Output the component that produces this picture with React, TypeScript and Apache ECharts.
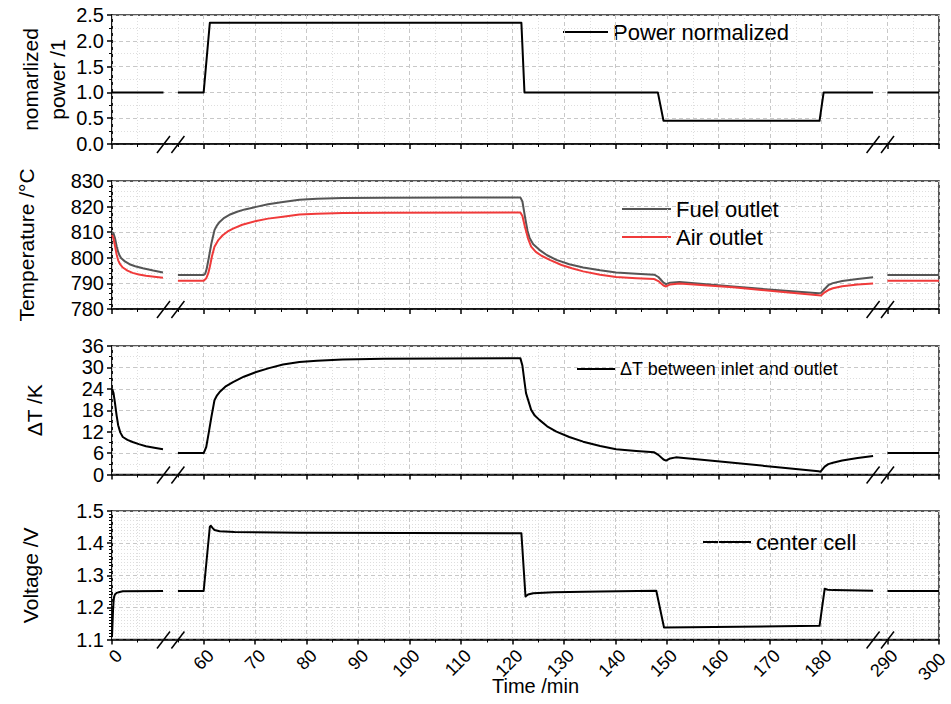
import React, { useEffect, useRef } from "react";
import * as echarts from "echarts";

// ---- broken time axis: three segments mapped onto one continuous axis ----
const SEG1_END = 10;
const SEG2_START = 55;
const SEG2_END = 190;
const SEG3_START = 290;
const SEG2_SHIFT = 42.2;
const SEG3_SHIFT = 139.4;
const X_END = 300;

const majorTicks = [0, 60, 70, 80, 90, 100, 110, 120, 130, 140, 150, 160, 170, 180, 290, 300];
const minorTicks = [5, 55, 65, 75, 85, 95, 105, 115, 125, 135, 145, 155, 165, 175, 185, 295];

// ---- panel 1: normalized power ----
const powerTime = [0, 10, 55, 60, 61.2, 121.7, 122.3, 148.2, 149.3, 179.6, 180.4, 190, 290, 300];
const powerValue = [1, 1, 1, 1, 2.35, 2.35, 1, 1, 0.45, 0.45, 1, 1, 1, 1];

// ---- panel 2: outlet temperatures ----
const fuelTime = [0, 0.3, 0.6, 0.9, 1.2, 1.5, 1.8, 2.5, 3.4, 4.5, 6, 8, 9.9,
  55, 60, 60.3, 60.6, 61, 61.5, 62.1, 62.6, 63.1, 64, 65, 66.5, 68, 70.2, 72.5, 75.4, 78.6, 82, 87, 95, 110, 121.5,
  121.9, 122.4, 122.9, 123.3, 124, 125.2, 126.7, 128.5, 131, 133.7, 137, 140.1, 144, 147.5, 148.3, 149.3, 149.8, 150.6, 152.4,
  162.8, 171, 179.4, 179.9, 180.6, 181.3, 182.2, 184, 187, 190,
  290, 300];
const fuelValue = [810.1, 809.5, 807.5, 804.5, 802.3, 800.8, 799.8, 798.6, 797.5, 796.7, 795.9, 795.0, 794.3,
  793.3, 793.3, 793.8, 795.8, 800, 805.6, 810.8, 812.7, 814, 815.6, 816.8, 818, 818.9, 819.9, 820.9, 821.8, 822.7, 823.1, 823.4, 823.5, 823.6, 823.6,
  822, 816, 810.5, 807.7, 805.3, 803.1, 801, 799.2, 797.5, 796.2, 795.1, 794.3, 793.8, 793.4, 792.5, 790.3, 789.7, 790.3, 790.5,
  788.8, 787.4, 786.2, 786.3, 787.8, 789.3, 790.1, 790.9, 791.7, 792.4,
  793.3, 793.3];
const airTime = [0, 0.3, 0.6, 0.9, 1.2, 1.6, 2.1, 3, 4, 5.2, 6.6, 8.2, 9.9,
  55, 60, 60.5, 60.9, 61.2, 61.6, 62.1, 62.8, 63.7, 64.6, 65.7, 67.5, 70.2, 72.5, 75.4, 78.6, 82, 87, 95, 121.5,
  121.9, 122.4, 123, 123.6, 124.5, 125.6, 127.2, 129.5, 131.5, 133.7, 137, 140.1, 144, 147.5, 148.3, 149.3, 149.8, 150.6, 152.4,
  162.8, 171, 179.4, 179.9, 180.6, 181.3, 182.2, 184, 187, 190,
  290, 300];
const airValue = [809, 807.5, 804.5, 801.3, 799, 797.4, 796.2, 795, 794.1, 793.5, 793, 792.6, 792.2,
  791, 791, 792, 794, 796.5, 800.5, 804.3, 806.8, 808.8, 810.2, 811.4, 812.9, 814.4, 815.3, 816, 816.9, 817.2, 817.5, 817.6, 817.7,
  816.3, 812, 807.5, 804.4, 802.3, 800.8, 799.2, 797.2, 795.9, 794.7, 793.4, 792.5, 792, 791.7, 790.9, 789.2, 788.8, 789.6, 790,
  788.5, 786.9, 785.4, 785.3, 786.5, 787.4, 788.1, 788.9, 789.6, 790,
  791, 791];

// ---- panel 3: delta T ----
const dtTime = [0, 0.3, 0.6, 0.9, 1.2, 1.6, 2.1, 3, 4, 5.2, 6.6, 8.2, 9.9,
  55, 60, 60.5, 61, 61.5, 62.1, 62.6, 63.1, 64.2, 65.7, 67.8, 70.2, 72.7, 75.4, 78.6, 82, 87, 95, 121.5,
  121.9, 122.3, 122.6, 123.6, 124.3, 125.2, 126.7, 128.5, 131, 133.7, 137, 140.1, 144, 147.5, 148.3, 149.3, 149.8, 150.6, 151.7,
  162.8, 171, 179.4, 179.8, 180.6, 181.3, 182.2, 184, 187, 190,
  290, 300];
const dtValue = [24.1, 22.8, 19.8, 16.5, 13.8, 11.8, 10.5, 9.7, 9.1, 8.5, 7.9, 7.5, 7.1,
  6, 6, 7.7, 11.8, 16.1, 20.8, 22.2, 23.1, 24.6, 25.9, 27.4, 28.7, 29.8, 30.8, 31.5, 31.9, 32.2, 32.4, 32.6,
  30.5, 26, 22.8, 18.1, 16.5, 15.3, 13.5, 12, 10.5, 9.2, 8, 7.1, 6.6, 6.2, 5.5, 4.2, 3.9, 4.5, 4.8,
  3.3, 2.1, 0.9, 0.8, 2.2, 2.9, 3.3, 3.9, 4.6, 5.2,
  6, 6];

// ---- panel 4: center cell voltage ----
const voltTime = [0, 0.1, 0.2, 0.3, 0.4, 0.6, 0.9, 1.5, 2.1, 9.9,
  55, 60, 61.2, 61.4, 61.8, 62.1, 63.1, 66, 78.6, 121.7, 122.5, 123, 124, 128, 137, 147.9, 149.4, 179.6, 180.6, 181.2, 182.2, 190,
  290, 300];
const voltValue = [1.108, 1.15, 1.191, 1.218, 1.233, 1.241, 1.245, 1.248, 1.25, 1.251,
  1.251, 1.251, 1.451, 1.454, 1.446, 1.441, 1.437, 1.435, 1.432, 1.431, 1.234, 1.24, 1.244, 1.247, 1.2496, 1.2515, 1.1374, 1.1425, 1.2578, 1.255, 1.2537, 1.2515,
  1.251, 1.251];

const FONT = '"Liberation Sans", Arial, Helvetica, sans-serif';

function segOf(t: number) {
  return t <= (SEG1_END + SEG2_START) / 2 ? 0 : t <= (SEG2_END + SEG3_START) / 2 ? 1 : 2;
}
function tx(t: number) {
  const s = segOf(t);
  return s === 0 ? t : s === 1 ? t - SEG2_SHIFT : t - SEG3_SHIFT;
}
function inv(v: number) {
  if (v <= (tx(SEG1_END) + tx(SEG2_START)) / 2) return v;
  if (v <= (tx(SEG2_END) + tx(SEG3_START)) / 2) return v + SEG2_SHIFT;
  return v + SEG3_SHIFT;
}
function build(times: number[], vals: number[]) {
  const out: any[] = [];
  for (let i = 0; i < times.length; i++) {
    if (i > 0 && segOf(times[i]) !== segOf(times[i - 1])) {
      out.push([(tx(times[i - 1]) + tx(times[i])) / 2, "-"]);
    }
    out.push([tx(times[i]), vals[i]]);
  }
  return out;
}

const panels = [
  { top: 15, height: 129, min: 0, max: 2.5, interval: 0.5, minor: 2, dec: 1, name: "nomarlized\npower /1", gap: 41 },
  { top: 181, height: 128, min: 780, max: 830, interval: 10, minor: 5, dec: 0, name: "Temperature /°C", gap: 72 },
  { top: 346, height: 128.5, min: 0, max: 36, interval: 6, minor: 2, dec: 0, name: "ΔT /K", gap: 64 },
  { top: 511, height: 128.5, min: 1.1, max: 1.5, interval: 0.1, minor: 10, dec: 1, name: "Voltage /V", gap: 68 },
];

export default function App() {
  const ref = useRef<HTMLDivElement>(null);
  useEffect(() => {
    if (!ref.current) return;
    const chart = echarts.init(ref.current, undefined, { renderer: "svg" });
    const grids: any[] = [];
    const xAxes: any[] = [];
    const yAxes: any[] = [];
    const lastTick = majorTicks[majorTicks.length - 1];
    panels.forEach((p, i) => {
      grids.push({
        left: 112, right: 12, top: p.top, height: p.height, show: true, borderColor: "#222", borderWidth: 1.5,
        backgroundColor: "transparent", containLabel: false, outerBoundsMode: "none",
      });
      const last = i === panels.length - 1;
      xAxes.push({
        gridIndex: i, type: "value", position: "bottom", min: 0, max: tx(X_END),
        axisLine: { show: true, onZero: false, lineStyle: { color: "#000", width: 1.5 } },
        axisTick: { show: true, inside: false, length: 5, customValues: majorTicks.map(tx), lineStyle: { color: "#000", width: 1.5 } },
        axisLabel: {
          show: last, customValues: majorTicks.map(tx), rotate: 45, fontSize: 18, color: "#000", fontFamily: FONT,
          margin: 6, verticalAlign: "top", padding: [1, 0, 0, 0],
          formatter: (v: number) => {
            const t = Math.round(inv(v));
            return t === lastTick ? `{e|${t}}` : `{n|${t}}`;
          },
          rich: {
            n: { fontSize: 18, color: "#000", fontFamily: FONT },
            e: { fontSize: 18, color: "#000", fontFamily: FONT, padding: [0, 5, 0, 0] },
          },
        },
        splitLine: { show: true, lineStyle: { color: "#c8c8c8", type: [4, 3], width: 1 } },
        name: last ? "Time /min" : "", nameLocation: "middle", nameGap: 36, nameMoveOverlap: false,
        nameTextStyle: { fontSize: 20, color: "#000", fontFamily: FONT, padding: [0, 0, 0, 20] },
        z: 5,
      });
      xAxes.push({
        gridIndex: i, type: "value", position: "bottom", min: 0, max: tx(X_END),
        axisLine: { show: false },
        axisTick: { show: true, inside: false, length: 3, customValues: minorTicks.map(tx), lineStyle: { color: "#000", width: 1 } },
        axisLabel: { show: false },
        splitLine: { show: true, lineStyle: { color: "#dedede", type: [1, 2], width: 1 } },
      });
      yAxes.push({
        gridIndex: i, type: "value", min: p.min, max: p.max, interval: p.interval,
        axisLine: { show: true, onZero: false, lineStyle: { color: "#000", width: 1.5 } },
        axisTick: { show: true, inside: false, length: 5, lineStyle: { color: "#000", width: 1.5 } },
        minorTick: { show: true, splitNumber: p.minor, length: 3, lineStyle: { color: "#000", width: 1 } },
        axisLabel: { fontSize: 20, color: "#000", fontFamily: FONT, margin: 8, formatter: (v: number) => v.toFixed(p.dec) },
        splitLine: { show: true, lineStyle: { color: "#c8c8c8", type: [4, 3], width: 1 } },
        minorSplitLine: { show: true, lineStyle: { color: "#dedede", type: [1, 2], width: 1 } },
        name: p.name, nameLocation: "middle", nameRotate: 90, nameGap: p.gap, nameMoveOverlap: false,
        nameTextStyle: { fontSize: 21, color: "#000", fontFamily: FONT, lineHeight: 27 },
      });
    });
    const line = (name: string, xi: number, yi: number, data: any[], color: string) => ({
      name, type: "line", xAxisIndex: xi, yAxisIndex: yi, data, symbol: "none", showSymbol: false,
      lineStyle: { color, width: 2, join: "round" }, itemStyle: { color }, z: 10,
    });
    const series = [
      line("Power normalized", 0, 0, build(powerTime, powerValue), "#000"),
      line("Fuel outlet", 2, 1, build(fuelTime, fuelValue), "#555555"),
      line("Air outlet", 2, 1, build(airTime, airValue), "#f03a3a"),
      line("ΔT between inlet and outlet", 4, 2, build(dtTime, dtValue), "#000"),
      line("center cell", 6, 3, build(voltTime, voltValue), "#000"),
    ];
    const leg = (data: string[], left: number, top: number, w: number, fs: number) => ({
      data, left, top, orient: "vertical", icon: "rect", itemWidth: w, itemHeight: 2, itemGap: 6, padding: 0,
      textStyle: { fontSize: fs, color: "#000", fontFamily: FONT, lineHeight: fs }, selectedMode: false,
    });
    chart.setOption({
      animation: false,
      grid: grids,
      xAxis: xAxes,
      yAxis: yAxes,
      series,
      legend: [
        leg(["Power normalized"], 563, 21, 45, 22),
        leg(["Fuel outlet", "Air outlet"], 622, 198, 49, 22),
        leg(["ΔT between inlet and outlet"], 577, 360, 38, 18),
        leg(["center cell"], 703, 531, 48, 22),
      ],
    });
    // break marks on each panel's time axis
    const graphics: any[] = [];
    panels.forEach((p, i) => {
      const by = chart.convertToPixel({ yAxisIndex: i }, p.min) as number;
      [SEG1_END, SEG2_START, SEG2_END, SEG3_START].forEach((t) => {
        const cx = chart.convertToPixel({ xAxisIndex: 2 * i }, tx(t)) as number;
        graphics.push({
          type: "line", z: 100,
          shape: { x1: cx - 6.5, y1: by + 9, x2: cx + 6.5, y2: by - 8 },
          style: { stroke: "#000", lineWidth: 1.5 },
        });
      });
    });
    chart.setOption({ graphic: graphics });
    return () => chart.dispose();
  }, []);
  return <div ref={ref} style={{ position: "fixed", left: 0, top: 0, width: 951, height: 704, background: "#fff" }} />;
}
